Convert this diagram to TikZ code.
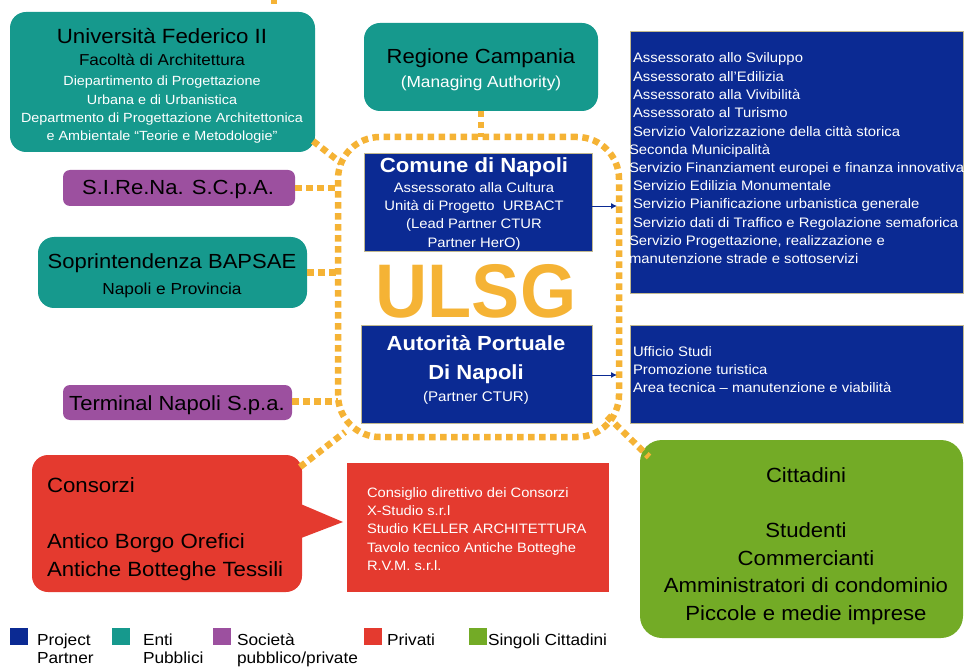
\documentclass[tikz,border=0pt]{standalone}
\usepackage{fontspec}
\setmainfont[FakeStretch=1.08]{Liberation Sans}
\newfontfamily\ulsgfont[FakeStretch=0.95]{Liberation Sans}
\usetikzlibrary{arrows.meta}
\definecolor{cteal}{HTML}{16998D}
\definecolor{cpurple}{HTML}{9C509F}
\definecolor{cblue}{HTML}{0B2A93}
\definecolor{corange}{HTML}{F5B335}
\definecolor{cred}{HTML}{E43A2F}
\definecolor{cgreen}{HTML}{73AB26}
\definecolor{cborder}{HTML}{C2B98F}
\newcommand\setfs[2]{\fontsize{#1}{#2}\selectfont}
\begin{document}
\begin{tikzpicture}[x=1pt,y=-1pt,
  every node/.style={inner sep=0pt,outer sep=0pt},
  bx/.style={anchor=north west},
  tealbox/.style={bx,fill=cteal,rounded corners=16pt},
  purplebox/.style={bx,fill=cpurple,rounded corners=7pt},
  bluebox/.style={bx,fill=cblue,draw=cborder,line width=0.8pt},
  txt/.style={anchor=base},
  ltxt/.style={anchor=base west},
  dots/.style={draw=corange,line width=6.5pt,dash pattern=on 6.5pt off 4.5pt},
  arr/.style={draw=cblue,line width=0.9pt,-{Latex[length=6pt,width=6pt]}},
  leg/.style={anchor=north west,minimum width=18pt,minimum height=17pt}
]
\useasboundingbox (0,0) rectangle (964,668);

% ---- ULSG ring ----
\node[draw=corange,line width=6.5pt,dash pattern=on 6.5pt off 4.5pt,rounded corners=42pt,
      minimum width=281pt,minimum height=300pt] (ring) at (478.5,287) {};

% ---- boxes ----
\node[tealbox,minimum width=305pt,minimum height=140pt] (uni) at (10,12) {};
\node[tealbox,minimum width=234pt,minimum height=88pt] (reg) at (364,23) {};
\node[purplebox,minimum width=232pt,minimum height=36pt] (sir) at (63,170) {};
\node[tealbox,minimum width=269pt,minimum height=71pt] (sop) at (38,237) {};
\node[purplebox,minimum width=229pt,minimum height=35pt] (ter) at (63,385) {};
\node[bluebox,minimum width=228pt,minimum height=98pt] (com) at (364,153) {};
\node[bluebox,minimum width=231pt,minimum height=98pt] (aut) at (361,325) {};
\node[bluebox,minimum width=333pt,minimum height=262pt] (rb1) at (630,31) {};
\node[bluebox,minimum width=333pt,minimum height=98pt] (rb2) at (630,325) {};
\node[bx,fill=cred,rounded corners=16pt,minimum width=270pt,minimum height=137pt] (cons) at (32,455) {};
\fill[cred] (296,502) -- (343,522) -- (296,540) -- cycle;
\node[bx,fill=cred,minimum width=262pt,minimum height=129pt] (priv) at (347,463) {};
\node[bx,fill=cgreen,rounded corners=22pt,minimum width=323pt,minimum height=198pt] (cit) at (640,440) {};

% ---- dotted connectors ----
\fill[corange] (271,0) rectangle (277,4);
\draw[dots] (reg.south) -- (reg.south |- ring.north);
\draw[dots] (sir.east) -- (sir.east -| ring.west);
\draw[dots] (sop.east) -- (sop.east -| ring.west);
\draw[dots] ([yshift=1pt]ter.east) -- ([yshift=1pt]ter.east -| ring.west);
\coordinate (dA) at (341,163);
\draw[dots] ([shift={(-2,-11)}]uni.south east) -- (dA);
\coordinate (dB) at (345,432);
\draw[dots] ([shift={(-2,12)}]cons.north east) -- (dB);
\coordinate (dC) at (607,416);
\draw[dots] (dC) -- ([shift={(9,17)}]cit.north west);

% ---- arrows ----
\draw[arr] ([yshift=-4pt]com.east) -- (617,206);
\draw[arr] ([yshift=-1pt]aut.east) -- (617,375);

% ---- texts ----
\node[txt,font=\setfs{20.6}{25}] (uA) at (162,44) {Università Federico II};
\node[txt,font=\setfs{15.8}{18}] (uB) at (162,66) {Facoltà di Architettura};
\begin{scope}[every node/.append style={txt,text=white,font=\setfs{13.3}{16}}]
\node (uC) at (162,86) {Diepartimento di Progettazione};
\node (uD) at (162,104.5) {Urbana e di Urbanistica};
\node (uE) at (162,123) {Departmento di Progettazione Architettonica};
\node (uF) at (162,141) {e Ambientale “Teorie e Metodologie”};
\end{scope}

\node[txt,font=\setfs{20.4}{24}] (rA) at (481,64) {Regione Campania};
\node[txt,font=\setfs{16}{18},text=white] (rB) at (481,88) {(Managing Authority)};

\node[txt,font=\setfs{20.4}{24}] (sA) at (178,195) {S.I.Re.Na. S.C.p.A.};
\node[txt,font=\setfs{20.4}{24}] (oA) at (172,269) {Soprintendenza BAPSAE};
\node[txt,font=\setfs{16}{18}] (oB) at (172,295) {Napoli e Provincia};
\node[txt,font=\setfs{20.4}{24}] (tA) at (177,410) {Terminal Napoli S.p.a.};

\node[txt,font=\bfseries\setfs{20.5}{24},text=white] (cA) at (474,173) {Comune di Napoli};
\begin{scope}[every node/.append style={txt,text=white,font=\setfs{13.7}{17}}]
\node (cB) at (474,193) {Assessorato alla Cultura};
\node (cC) at (474,211) {Unità di Progetto\ \ URBACT};
\node (cD) at (474,229) {(Lead Partner CTUR};
\node (cE) at (474,247.5) {Partner HerO)};
\end{scope}

\node[txt,font=\ulsgfont\bfseries\setfs{76}{80},text=corange] (ulsg) at (476,318) {ULSG};

\node[txt,font=\bfseries\setfs{20.4}{24},text=white] (aA) at (476,350) {Autorità Portuale};
\node[txt,font=\bfseries\setfs{20.4}{24},text=white] (aB) at (476,379) {Di Napoli};
\node[txt,font=\setfs{14}{17},text=white] (aC) at (476,401) {(Partner CTUR)};

\begin{scope}[every node/.append style={ltxt,text=white,font=\setfs{13.75}{16}}]
\node (r1) at (633,63) {Assessorato allo Sviluppo};
\node (r2) at (633,81.5) {Assessorato all'Edilizia};
\node (r3) at (633,99.5) {Assessorato alla Vivibilità};
\node (r4) at (633,118) {Assessorato al Turismo};
\node (r5) at (633,136.5) {Servizio Valorizzazione della città storica};
\node (r6) at (629,154.5) {Seconda Municipalità};
\node (r7) at (629,172.5) {Servizio Finanziament europei e finanza innovativa};
\node (r8) at (633,191) {Servizio Edilizia Monumentale};
\node (r9) at (633,209) {Servizio Pianificazione urbanistica generale};
\node (r10) at (633,227.5) {Servizio dati di Traffico e Regolazione semaforica};
\node (r11) at (629,246) {Servizio Progettazione, realizzazione e};
\node (r12) at (629,264) {manutenzione strade e sottoservizi};
\node (s1) at (633,356) {Ufficio Studi};
\node (s2) at (633,374) {Promozione turistica};
\node (s3) at (633,392.5) {Area tecnica – manutenzione e viabilità};
\end{scope}
\begin{scope}[every node/.append style={ltxt,text=white,font=\setfs{13.6}{16}}]
\node (p1) at (367,497) {Consiglio direttivo dei Consorzi};
\node (p2) at (367,515) {X-Studio s.r.l};
\node (p3) at (367,533.5) {Studio KELLER ARCHITETTURA};
\node (p4) at (367,552) {Tavolo tecnico Antiche Botteghe};
\node (p5) at (367,570.5) {R.V.M. s.r.l.};
\end{scope}

\begin{scope}[every node/.append style={ltxt,font=\setfs{20.6}{24}}]
\node (k1) at (47,492) {Consorzi};
\node (k2) at (47,548) {Antico Borgo Orefici};
\node (k3) at (47,576) {Antiche Botteghe Tessili};
\end{scope}

\begin{scope}[every node/.append style={txt,font=\setfs{20.5}{24}}]
\node (g1) at (806,482) {Cittadini};
\node (g2) at (806,537) {Studenti};
\node (g3) at (806,565) {Commercianti};
\node (g4) at (806,592.5) {Amministratori di condominio};
\node (g5) at (806,620) {Piccole e medie imprese};
\end{scope}

% ---- legend ----
\node[leg,fill=cblue] (l1) at (10,628) {};
\node[leg,fill=cteal] (l2) at (112,628) {};
\node[leg,fill=cpurple] (l3) at (213,628) {};
\node[leg,fill=cred] (l4) at (364,628) {};
\node[leg,fill=cgreen] (l5) at (469,628) {};
\begin{scope}[every node/.append style={ltxt,font=\setfs{16}{19}}]
\node (m1) at (37,645) {Project};
\node (m1b) at (37,663) {Partner};
\node (m2) at (143,645) {Enti};
\node (m2b) at (143,663) {Pubblici};
\node (m3) at (237,645) {Società};
\node (m3b) at (237,663) {pubblico/private};
\node (m4) at (387,645) {Privati};
\node (m5) at (488,645) {Singoli Cittadini};
\end{scope}
\end{tikzpicture}
\end{document}
